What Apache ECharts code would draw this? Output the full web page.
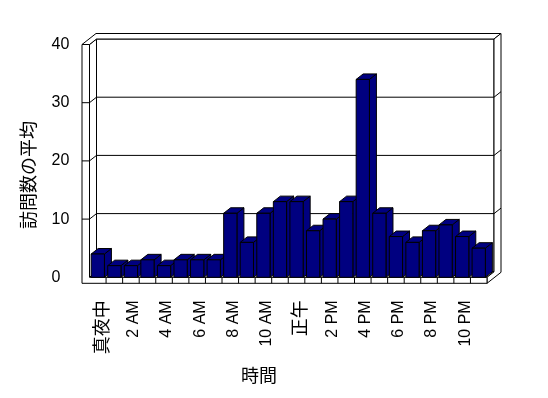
<!DOCTYPE html>
<html>
<head>
<meta charset="utf-8">
<script src="https://cdn.jsdelivr.net/npm/echarts@6/dist/echarts.min.js"></script>
<style>
html,body{margin:0;padding:0;background:#fff;}
#c{width:548px;height:398px;}
</style>
</head>
<body>
<div id="c"></div>
<script>
const categories = ['真夜中','1 AM','2 AM','3 AM','4 AM','5 AM','6 AM','7 AM','8 AM','9 AM','10 AM','11 AM',
  '正午','1 PM','2 PM','3 PM','4 PM','5 PM','6 PM','7 PM','8 PM','9 PM','10 PM','11 PM'];
const visits = [4,2,2,3,2,3,3,3,11,6,11,13,13,8,10,13,34,11,7,6,8,9,7,5];
const yTicks = [0,10,20,30,40];
const yAxisTitle = '訪問数の平均';
const xAxisTitle = '時間';

const DX = 7, DY = -5.5;   // depth offset
const WT = 7.5;            // left wall thickness
const FT = 6;              // floor thickness
const BAR = '#000080';
const LINE = '#000000';

const chart = echarts.init(document.getElementById('c'), null, {renderer:'canvas'});

function lineEl(x1,y1,x2,y2){
  return {type:'line', shape:{x1:x1,y1:y1,x2:x2,y2:y2}, style:{stroke:LINE, lineWidth:1}, silent:true};
}
function poly(points, fill){
  return {type:'polygon', shape:{points:points}, style:{fill:fill, stroke:LINE, lineWidth:1}, silent:true};
}

function renderFrame(params, api){
  const n = categories.length;
  const bw = api.size([1,0])[0];
  const xL = api.coord([0,0])[0] - bw/2;
  const xR = api.coord([n-1,0])[0] + bw/2;
  const yMax = yTicks[yTicks.length-1];
  const yT = api.coord([0,yMax])[1];
  const y0 = api.coord([0,0])[1];
  const ch = [];
  ch.push(poly([[xL+DX,yT+DY],[xR+DX,yT+DY],[xR+DX,y0+DY],[xL+DX,y0+DY]], '#fff'));
  ch.push(poly([[xL,yT],[xL+DX,yT+DY],[xL+DX,y0+DY],[xL,y0]], '#fff'));
  ch.push(poly([[xL,y0],[xR,y0],[xR+DX,y0+DY],[xL+DX,y0+DY]], '#fff'));
  ch.push(poly([[xL-WT,yT],[xL-WT+2*DX,yT+2*DY],[xR+2*DX,yT+2*DY],[xR+DX,yT+DY],[xL+DX,yT+DY],[xL,yT]], '#fff'));
  ch.push(poly([[xR+DX,yT+DY],[xR+2*DX,yT+2*DY],[xR+2*DX,y0+2*DY+FT],[xR,y0+FT],[xR,y0],[xR+DX,y0+DY]], '#fff'));
  ch.push(poly([[xL-WT,yT],[xL,yT],[xL,y0],[xR,y0],[xR,y0+FT],[xL-WT,y0+FT]], '#fff'));
  for (let k=1;k<n;k++){
    const x = xL + k*bw;
    ch.push(lineEl(x,y0,x,y0+FT));
  }
  yTicks.forEach(function(v){
    if (v===0 || v===yMax) return;
    const y = api.coord([0,v])[1];
    ch.push(lineEl(xL+DX,y+DY,xR+DX,y+DY));
    ch.push(lineEl(xL,y,xL+DX,y+DY));
    ch.push(lineEl(xL-WT,y,xL,y));
    ch.push(lineEl(xR+DX,y+DY,xR+2*DX,y+2*DY));
  });
  return {type:'group', children:ch};
}

function renderBar(params, api){
  const x = api.value(0), v = api.value(1);
  const top = api.coord([x,v]);
  const base = api.coord([x,0]);
  const w = api.size([1,0])[0]*0.8;
  const l = top[0]-w/2, r = top[0]+w/2, t = top[1], b = base[1];
  const st = {fill:BAR, stroke:LINE, lineWidth:1};
  return {type:'group', children:[
    {type:'polygon', shape:{points:[[r,t],[r+DX,t+DY],[r+DX,b+DY],[r,b]]}, style:st},
    {type:'polygon', shape:{points:[[l,t],[r,t],[r+DX,t+DY],[l+DX,t+DY]]}, style:st},
    {type:'polygon', shape:{points:[[l,t],[r,t],[r,b],[l,b]]}, style:st}
  ]};
}

const option = {
  backgroundColor:'#ffffff',
  animation:false,
  grid:{left:89.5, top:44.5, width:397.5, height:232.8, containLabel:false},
  xAxis:{
    type:'category',
    data:categories,
    axisLine:{show:false},
    axisTick:{show:false},
    axisLabel:{
      interval:1,
      rotate:90,
      margin:23,
      color:'#000',
      fontSize:16,
      padding:[6,0,0,0],
      fontFamily:'Liberation Sans, Arial, sans-serif',
      formatter:function(v){ return /[A-Z]/.test(v) ? v : '{j|'+v+'}'; },
      rich:{j:{fontSize:18, fontFamily:'Noto Sans CJK JP', color:'#000'}}
    },
    splitLine:{show:false}
  },
  yAxis:{
    type:'value',
    min:0, max:40, interval:10,
    axisLine:{show:false},
    axisTick:{show:false},
    splitLine:{show:false},
    axisLabel:{
      margin:38,
      align:'left',
      color:'#000',
      fontSize:16,
      fontFamily:'Liberation Sans, Arial, sans-serif',
      formatter:function(v){ return yTicks.indexOf(v)>=0 ? String(v) : ''; }
    }
  },
  graphic:[
    {type:'text', x:28.5, y:175, rotation:Math.PI/2,
      style:{text:yAxisTitle, fill:'#000', font:'18px "Noto Sans CJK JP"', align:'center', verticalAlign:'middle'}},
    {type:'text', x:259, y:375,
      style:{text:xAxisTitle, fill:'#000', font:'18px "Noto Sans CJK JP"', align:'center', verticalAlign:'middle'}}
  ],
  series:[
    {type:'custom', name:'frame', renderItem:renderFrame, data:[[0,0]], z:1, silent:true, clip:false},
    {type:'custom', name:'訪問数の平均', renderItem:renderBar, data:visits.map(function(v,i){return [i,v];}), z:2, clip:false}
  ]
};
chart.setOption(option);
</script>
</body>
</html>
